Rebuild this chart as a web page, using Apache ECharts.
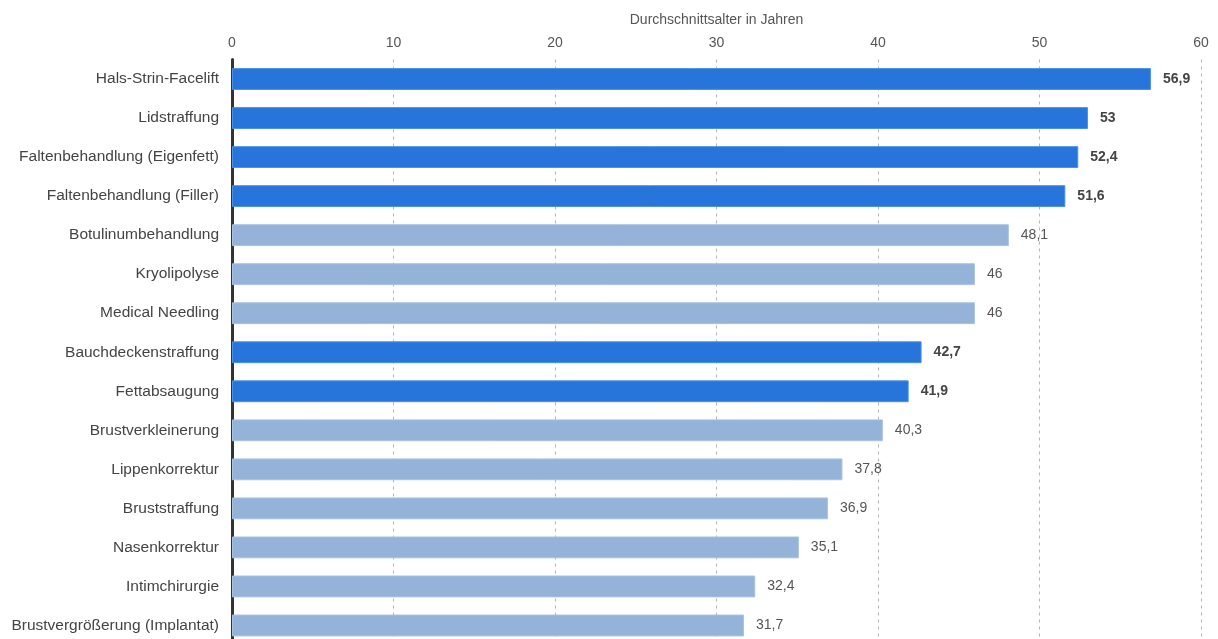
<!DOCTYPE html>
<html><head><meta charset="utf-8">
<script src="https://cdn.jsdelivr.net/npm/echarts@6/dist/echarts.min.js"></script>
<style>html,body{margin:0;padding:0;background:#fff;overflow:hidden}#c{width:1218px;height:646px}</style>
</head><body><div id="c"></div>
<script>
const categories = ["Hals-Strin-Facelift","Lidstraffung","Faltenbehandlung (Eigenfett)","Faltenbehandlung (Filler)","Botulinumbehandlung","Kryolipolyse","Medical Needling","Bauchdeckenstraffung","Fettabsaugung","Brustverkleinerung","Lippenkorrektur","Bruststraffung","Nasenkorrektur","Intimchirurgie","Brustvergrößerung (Implantat)"];
const values = [56.9,53,52.4,51.6,48.1,46,46,42.7,41.9,40.3,37.8,36.9,35.1,32.4,31.7];
const highlighted = [true,true,true,true,false,false,false,true,true,false,false,false,false,false,false];
const axisName = "Durchschnittsalter in Jahren";

const chart = echarts.init(document.getElementById('c'), null, {renderer:'canvas'});
const font = 'Liberation Sans, Arial, sans-serif';
chart.setOption({
  animation:false,
  grid:{left:232, right:17, top:59.5, bottom:1, containLabel:false},
  xAxis:{type:'value', position:'top', min:0, max:60, interval:10,
    name:axisName, nameLocation:'middle', nameGap:32,
    nameTextStyle:{color:'#555', fontSize:14, fontFamily:font},
    axisLine:{show:false}, axisTick:{show:false},
    axisLabel:{color:'#555', fontSize:14, fontFamily:font, margin:9},
    splitLine:{show:true, lineStyle:{color:'#b5b5b5', type:[3,4], width:1}}},
  yAxis:{type:'category', inverse:true, data:categories,
    axisLine:{show:true, lineStyle:{color:'#333', width:3}},
    axisTick:{show:false},
    axisLabel:{color:'#444', fontSize:15.5, fontFamily:font, margin:13}},
  series:[{type:'bar', barCategoryGap:'44%',
    data: values.map((v,i)=>({value:v,
      itemStyle:{color: highlighted[i] ? '#2775db' : '#95b3d9',
        borderColor: highlighted[i] ? '#4d90e6' : '#a9c2e2', borderWidth:1},
      label:{fontWeight: highlighted[i] ? 'bold' : 'normal', color: highlighted[i] ? '#444' : '#555'}})),
    label:{show:true, position:'right', distance:12, color:'#555', fontSize:14, fontFamily:font,
      formatter:p=>String(p.value).replace('.',',')}
  }]
});
</script></body></html>
